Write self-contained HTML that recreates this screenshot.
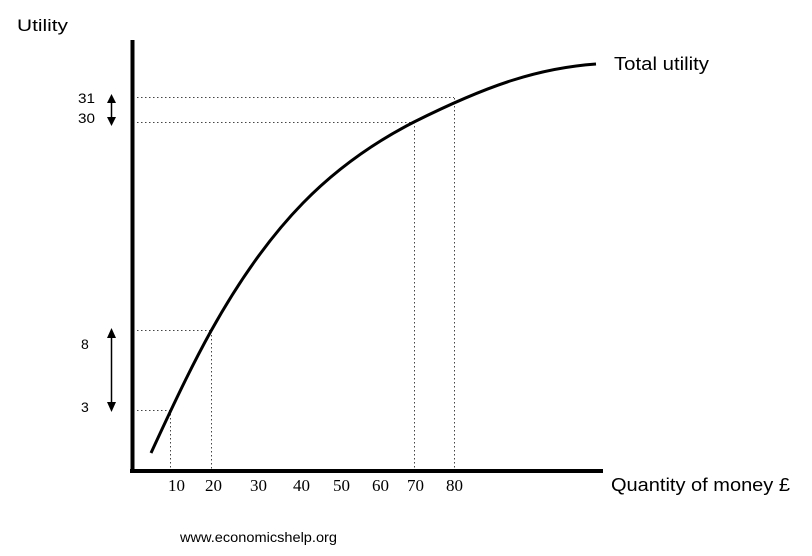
<!DOCTYPE html>
<html><head><style>
html,body{margin:0;padding:0;background:#fff;}
svg{display:block;}
</style></head><body>
<svg width="812" height="556" xmlns="http://www.w3.org/2000/svg">
<g font-family="Liberation Sans, sans-serif" fill="#000">
<text x="17" y="31" font-size="17" textLength="51" lengthAdjust="spacingAndGlyphs">Utility</text>
<text x="614" y="70" font-size="18" textLength="95" lengthAdjust="spacingAndGlyphs">Total utility</text>
<text x="611" y="491" font-size="18" textLength="179" lengthAdjust="spacingAndGlyphs">Quantity  of money £</text>
<text x="180" y="542" font-size="14" textLength="157" lengthAdjust="spacingAndGlyphs">www.economicshelp.org</text>
<text x="78" y="103" font-size="14" textLength="17" lengthAdjust="spacingAndGlyphs">31</text>
<text x="78" y="123" font-size="14" textLength="17" lengthAdjust="spacingAndGlyphs">30</text>
<text x="81" y="349" font-size="14">8</text>
<text x="81" y="412" font-size="14">3</text>
</g>
<g font-family="Liberation Serif, serif" font-size="17" fill="#000">
<text x="168" y="491">10</text>
<text x="205" y="491">20</text>
<text x="250" y="491">30</text>
<text x="293" y="491">40</text>
<text x="333" y="491">50</text>
<text x="372" y="491">60</text>
<text x="407" y="491">70</text>
<text x="446" y="491">80</text>
</g>
<g stroke="#444" stroke-width="1" stroke-dasharray="1.5,2.5" fill="none">
<line x1="137" y1="97.5" x2="454" y2="97.5"/>
<line x1="137" y1="122.5" x2="414" y2="122.5"/>
<line x1="137" y1="330.5" x2="211" y2="330.5"/>
<line x1="137" y1="410.5" x2="170" y2="410.5"/>
<line x1="170.5" y1="410" x2="170.5" y2="470"/>
<line x1="211.5" y1="331" x2="211.5" y2="470"/>
<line x1="414.5" y1="122" x2="414.5" y2="470"/>
<line x1="454.5" y1="98" x2="454.5" y2="470"/>
</g>
<line x1="132.5" y1="40" x2="132.5" y2="473" stroke="#000" stroke-width="4"/>
<line x1="130" y1="471" x2="603" y2="471" stroke="#000" stroke-width="4"/>
<path d="M151,453 C180,390 195,360 211,331 C270,225 330,165 414,122 C490,84 540,68 596,64" stroke="#000" stroke-width="3" fill="none"/>
<g stroke="#000" stroke-width="1.5">
<line x1="111.5" y1="100" x2="111.5" y2="120"/>
<line x1="111.5" y1="335" x2="111.5" y2="405"/>
</g>
<g fill="#000">
<polygon points="111.5,94 107,103 116,103"/>
<polygon points="111.5,126 107,117 116,117"/>
<polygon points="111.5,328 107,338 116,338"/>
<polygon points="111.5,412 107,402 116,402"/>
</g>
</svg>
</body></html>
